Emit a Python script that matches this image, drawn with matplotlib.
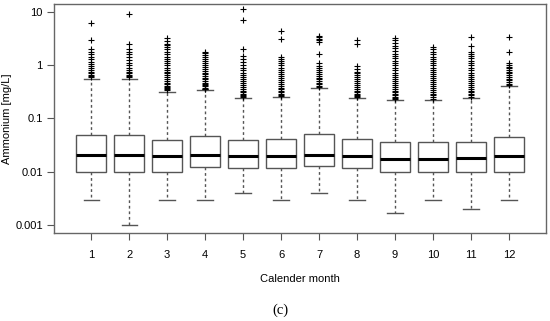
import matplotlib
matplotlib.use("Agg")
import matplotlib.pyplot as plt

plt.rcParams['font.family'] = ['Liberation Sans', 'DejaVu Sans']

months = [1, 2, 3, 4, 5, 6, 7, 8, 9, 10, 11, 12]

# box statistics (mg/L)
q1 = [0.01, 0.01, 0.01, 0.0122, 0.012, 0.012, 0.013, 0.012, 0.01, 0.01, 0.01, 0.01]
med = [0.0203, 0.0203, 0.0194, 0.021, 0.02, 0.02, 0.021, 0.02, 0.017, 0.017, 0.018, 0.02]
q3 = [0.0496, 0.05, 0.040, 0.047, 0.040, 0.042, 0.051, 0.041, 0.0355, 0.0355, 0.036, 0.045]
whislo = [0.003, 0.001, 0.003, 0.003, 0.004, 0.003, 0.004, 0.003, 0.0017, 0.003, 0.002, 0.003]
whishi = [0.56, 0.56, 0.32, 0.34, 0.24, 0.25, 0.38, 0.24, 0.225, 0.22, 0.24, 0.40]

outliers = [
    [6.3, 3.0, 2.0, 1.8, 1.6, 1.45, 1.3, 1.15, 1.05, 0.95, 0.88, 0.8, 0.75, 0.7, 0.66, 0.62, 0.6],
    [9.0, 2.5, 2.0, 1.8, 1.6, 1.4, 1.25, 1.1, 1.0, 0.9, 0.82, 0.75, 0.7, 0.66, 0.62, 0.6],
    [3.2, 2.8, 2.5, 2.4, 2.2, 2.0, 1.8, 1.6, 1.45, 1.3, 1.2, 1.1, 1.0, 0.9, 0.82, 0.75, 0.7,
     0.65, 0.6, 0.55, 0.5, 0.47, 0.44, 0.41, 0.39, 0.37, 0.35, 0.34],
    [1.8, 1.7, 1.55, 1.4, 1.3, 1.2, 1.1, 1.0, 0.92, 0.85, 0.78, 0.72, 0.67, 0.62, 0.58, 0.54,
     0.5, 0.47, 0.44, 0.42, 0.4, 0.38, 0.36, 0.35],
    [11.4, 7.1, 2.0, 1.5, 1.3, 1.15, 1.0, 0.9, 0.8, 0.72, 0.65, 0.6, 0.55, 0.5, 0.46, 0.42,
     0.39, 0.36, 0.33, 0.31, 0.29, 0.27, 0.26, 0.25],
    [4.4, 3.1, 1.43, 1.3, 1.2, 1.1, 1.0, 0.9, 0.82, 0.75, 0.68, 0.62, 0.57, 0.52, 0.48, 0.44,
     0.41, 0.38, 0.35, 0.33, 0.31, 0.29, 0.27, 0.26],
    [3.5, 3.3, 3.1, 2.9, 2.7, 1.6, 1.1, 0.95, 0.88, 0.8, 0.74, 0.68, 0.63, 0.58, 0.54, 0.5,
     0.47, 0.44, 0.41, 0.39],
    [2.9, 2.5, 0.95, 0.85, 0.75, 0.7, 0.65, 0.6, 0.55, 0.5, 0.46, 0.42, 0.39, 0.36, 0.33,
     0.31, 0.29, 0.27, 0.26, 0.25],
    [3.2, 2.9, 2.6, 2.3, 2.1, 1.85, 1.65, 1.5, 1.35, 1.2, 1.1, 1.0, 0.9, 0.8, 0.72, 0.65, 0.6,
     0.55, 0.5, 0.46, 0.42, 0.39, 0.36, 0.33, 0.31, 0.29, 0.27, 0.25, 0.24, 0.23],
    [2.2, 2.0, 1.8, 1.6, 1.45, 1.3, 1.2, 1.1, 1.0, 0.9, 0.82, 0.75, 0.68, 0.62, 0.57, 0.52,
     0.48, 0.44, 0.4, 0.37, 0.34, 0.31, 0.29, 0.27, 0.25, 0.235],
    [3.3, 2.3, 1.8, 1.6, 1.5, 1.35, 1.2, 1.1, 1.0, 0.9, 0.8, 0.72, 0.66, 0.6, 0.55, 0.5, 0.46,
     0.42, 0.39, 0.36, 0.33, 0.31, 0.29, 0.27, 0.25],
    [3.3, 1.8, 1.1, 1.0, 0.93, 0.87, 0.8, 0.75, 0.7, 0.65, 0.6, 0.56, 0.52, 0.48, 0.45, 0.42],
]

yticks = [0.001, 0.01, 0.1, 1, 10]
ytick_labels = ["0.001", "0.01", "0.1", "1", "10"]

stats = []
for i in range(len(months)):
    stats.append({'q1': q1[i], 'med': med[i], 'q3': q3[i],
                  'whislo': whislo[i], 'whishi': whishi[i], 'fliers': outliers[i]})

edge = '#555555'
fig = plt.figure(figsize=(5.5, 3.21), dpi=100)
ax = fig.add_axes([0.098, 0.274, 0.895, 0.714])

ax.bxp(stats, positions=months, widths=0.8, capwidths=0.4, patch_artist=True,
       boxprops=dict(facecolor='white', edgecolor=edge, linewidth=1.0),
       medianprops=dict(color='black', linewidth=2.2),
       whiskerprops=dict(color=edge, linestyle=(0, (2, 2)), linewidth=1.0),
       capprops=dict(color=edge, linewidth=1.0),
       flierprops=dict(marker='+', markersize=4, markeredgecolor='black',
                       markeredgewidth=0.8, linestyle='none'))

ax.set_yscale('log')
ax.set_ylim(0.00071, 14.1)
ax.set_xlim(0.02, 12.98)
ax.set_yticks(yticks)
ax.set_yticklabels(ytick_labels)
ax.minorticks_off()
ax.set_xticks(months)
ax.set_xticklabels([str(m) for m in months])
ax.tick_params(axis='both', length=5, width=0.8, color=edge, labelsize=8)
ax.tick_params(axis='y', pad=3)
ax.tick_params(axis='x', pad=7)

for sp in ax.spines.values():
    sp.set_color('#666666')
    sp.set_linewidth(1.0)

ax.set_ylabel('Ammonium [mg/L]', fontsize=8, labelpad=2)
ax.set_xlabel('Calender month', fontsize=8, labelpad=10)

fig.text(0.509, 0.035, '(c)', fontsize=10.5, family='Liberation Serif', ha='center', va='center')

fig.savefig('out.png', dpi=100)
